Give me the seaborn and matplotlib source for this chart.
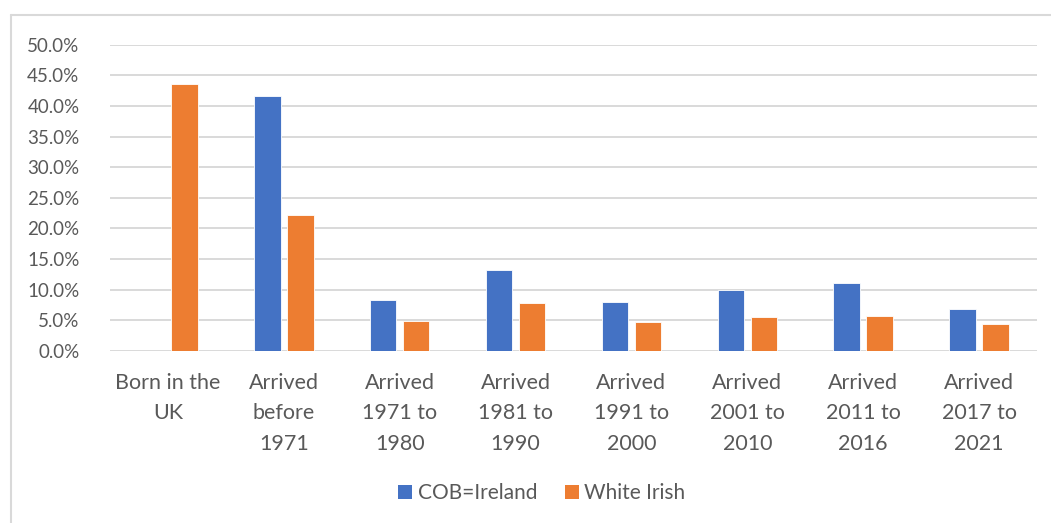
import matplotlib
matplotlib.use("Agg")
import matplotlib.pyplot as plt
from matplotlib.lines import Line2D
from matplotlib.patches import Patch
import numpy as np
import pandas as pd
import seaborn as sns

# Share of people by period of arrival
categories = [
    "Born in the\nUK",
    "Arrived\nbefore\n1971",
    "Arrived\n1971 to\n1980",
    "Arrived\n1981 to\n1990",
    "Arrived\n1991 to\n2000",
    "Arrived\n2001 to\n2010",
    "Arrived\n2011 to\n2016",
    "Arrived\n2017 to\n2021",
]
cob_ireland = [np.nan, 41.7, 8.4, 13.2, 8.0, 9.9, 11.1, 6.8]
white_irish = [43.6, 22.2, 4.9, 7.9, 4.8, 5.6, 5.7, 4.4]
series_names = ["COB=Ireland", "White Irish"]
colors = ["#4472C4", "#ED7D31"]
y_ticks = np.arange(0, 55, 5)

df = pd.DataFrame({
    "category": categories * 2,
    "series": [series_names[0]] * len(categories) + [series_names[1]] * len(categories),
    "value": cob_ireland + white_irish,
})

sns.set_theme(style="white")
plt.rcParams["font.family"] = ["Lato", "DejaVu Sans"]
text_color = "#595959"
grid_color = "#d9d9d9"

W, H = 1051, 523
fig = plt.figure(figsize=(W / 100, H / 100), dpi=100)
ax = fig.add_axes([110 / W, 1 - 351 / H, (1037 - 110) / W, (351 - 44.7) / H])

sns.barplot(
    data=df, x="category", y="value", hue="series", order=categories,
    hue_order=series_names, palette=colors, width=0.57, gap=0.2,
    saturation=1, legend=False, ax=ax, edgecolor="white", linewidth=0.6,
)

ax.set_ylim(0, 50)
ax.set_yticks(y_ticks)
ax.set_yticklabels([f"{v:.1f}%" for v in y_ticks])
ax.set_xlim(-0.5, len(categories) - 0.5)
ax.set_xlabel("")
ax.set_ylabel("")
ax.yaxis.grid(True, color=grid_color, linewidth=1.4)
ax.set_axisbelow(True)
for s in ax.spines.values():
    s.set_visible(False)
ax.tick_params(axis="y", length=0, pad=22, labelsize=13.5, labelcolor=text_color)
ax.tick_params(axis="x", length=0, pad=16, labelsize=15.5, labelcolor=text_color)
for lab in ax.get_xticklabels():
    lab.set_linespacing(1.64)

handles = [Patch(facecolor=c, edgecolor="none") for c in colors]
fig.legend(
    handles, series_names, loc="center", bbox_to_anchor=(542 / W, 1 - 493 / H),
    ncol=2, frameon=False, fontsize=15, labelcolor=text_color,
    handlelength=0.67, handleheight=0.67, handletextpad=0.25, columnspacing=1.35,
)

# Outer chart frame (top and left edges)
fig.add_artist(Line2D([11 / W, 1.0], [1 - 15 / H, 1 - 15 / H], color=grid_color, linewidth=1.5))
fig.add_artist(Line2D([11 / W, 11 / W], [1 - 15 / H, 0.0], color=grid_color, linewidth=1.5))

fig.savefig("out.png", dpi=100, facecolor="white")
